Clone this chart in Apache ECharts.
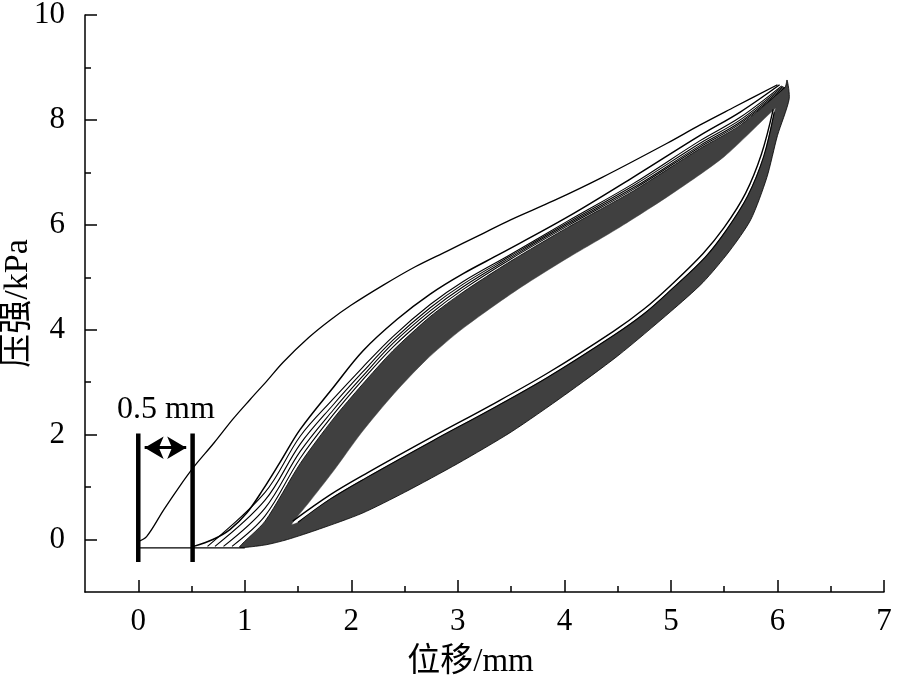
<!DOCTYPE html>
<html>
<head>
<meta charset="utf-8">
<script src="https://cdn.jsdelivr.net/npm/echarts@6/dist/echarts.min.js"></script>
<style>
html,body{margin:0;padding:0;background:#fff;}
#chart{width:900px;height:687px;}
</style>
</head>
<body>
<div id="chart"></div>
<script>
// ---- axis ticks ----
const xMajorTicks = [0, 1, 2, 3, 4, 5, 6, 7];
const xMinorTicks = [0.5, 1.5, 2.5, 3.5, 4.5, 5.5, 6.5];
const yMajorTicks = [0, 2, 4, 6, 8, 10];
const yMinorTicks = [1, 3, 5, 7, 9];

// ---- curves [displacement mm, pressure kPa] ----
const baseline = [[0, -0.16], [1.0, -0.16]];
const firstLoading = [[0,-0.04],[0.08,0.06],[0.24,0.57],[0.39,1.02],[0.52,1.38],[0.71,1.84],[0.89,2.3],[1.05,2.67],[1.21,3.03],[1.36,3.38],[1.6,3.85],[1.8,4.18],[2.0,4.47],[2.3,4.85],[2.6,5.2],[2.9,5.5],[3.2,5.8],[3.5,6.1],[3.9,6.46],[4.35,6.9],[4.96,7.55],[5.27,7.9],[5.6,8.25],[6.0,8.67]];
const loadB = [[0.52,-0.13],[0.70,0.0],[0.86,0.19],[1.02,0.51],[1.17,0.95],[1.33,1.47],[1.52,2.1],[1.83,2.9],[2.11,3.6],[2.43,4.2],[2.74,4.68],[3.05,5.07],[3.40,5.45],[4.03,6.15],[4.64,6.9],[5.27,7.7],[5.65,8.15],[6.02,8.67]];
const loadC = [[0.65,-0.13],[1.19,0.9],[1.52,1.97],[1.83,2.68],[2.1,3.27],[2.39,3.87],[2.74,4.48],[3.05,4.92],[3.49,5.43],[4.03,6.07],[4.65,6.79],[5.27,7.6],[5.65,8.05],[6.04,8.65]];
const loadD = [[0.72,-0.13],[1.19,0.75],[1.52,1.82],[1.83,2.57],[2.1,3.18],[2.39,3.8],[2.74,4.42],[3.05,4.87],[3.49,5.4],[4.03,6.04],[4.65,6.75],[5.27,7.55],[5.65,8.0],[6.05,8.64]];
const loadE = [[0.8,-0.13],[1.19,0.6],[1.52,1.68],[1.83,2.47],[2.1,3.1],[2.39,3.74],[2.74,4.36],[3.05,4.82],[3.49,5.37],[4.03,6.01],[4.65,6.71],[5.27,7.51],[5.65,7.96],[6.06,8.63]];
const loadF = [[0.88,-0.13],[1.19,0.45],[1.52,1.55],[1.83,2.38],[2.1,3.03],[2.39,3.67],[2.74,4.3],[3.05,4.77],[3.49,5.34],[4.03,5.98],[4.65,6.68],[5.27,7.48],[5.65,7.93],[6.07,8.62]];
// dark band edges
const loadBandTop = [[0.95,-0.14],[1.19,0.35],[1.52,1.45],[1.83,2.3],[2.1,2.95],[2.39,3.6],[2.74,4.25],[3.05,4.72],[3.49,5.3],[4.03,5.95],[4.65,6.65],[5.27,7.45],[5.65,7.9],[6.07,8.62],[6.09,8.76]];
const loadBandBottom = [[1.44,0.29],[1.6,0.7],[1.83,1.3],[2.1,2.05],[2.4,2.78],[2.7,3.42],[3.0,3.95],[3.3,4.4],[3.6,4.82],[4.0,5.33],[4.5,5.93],[5.0,6.58],[5.5,7.3],[5.98,8.22]];
const unloadTop = [[1.45,0.35],[1.8,0.85],[2.15,1.27],[2.77,1.97],[3.3,2.55],[3.84,3.17],[4.46,3.97],[4.75,4.4],[5.0,4.85],[5.3,5.45],[5.5,5.95],[5.7,6.6],[5.85,7.35],[5.96,8.2]];
const unloadSecond = [[1.5,0.33],[1.8,0.77],[2.15,1.19],[2.77,1.89],[3.3,2.47],[3.84,3.09],[4.46,3.89],[4.75,4.31],[5.0,4.76],[5.32,5.38],[5.52,5.9],[5.72,6.55],[5.87,7.3],[5.97,8.15]];
const unloadBottom = [[6.11,8.4],[6.0,7.7],[5.9,6.9],[5.75,6.1],[5.55,5.5],[5.3,4.9],[5.0,4.35],[4.5,3.5],[4.0,2.75],[3.5,2.05],[3.0,1.45],[2.5,0.9],[2.1,0.5],[1.7,0.2],[1.4,0.0],[1.2,-0.1],[1.0,-0.15]];
// 0.5 mm marker
const markerBars = [0, 0.51];
const markerBarRange = [-0.43, 2.02];
const arrowY = 1.75;
const markerText = '0.5 mm';
const markerTextPos = [0.26, 2.47];

const serif = "'Liberation Serif','Times New Roman','Noto Sans CJK SC',serif";
const dark = '#404040';

function lineSeries(data, width, color) {
  return {type:'line', data:data, showSymbol:false, symbol:'none', smooth:0.35,
    lineStyle:{color:color||'#000', width:width}, silent:true, z:3, animation:false};
}

const chart = echarts.init(document.getElementById('chart'));
const option = {
  animation:false,
  backgroundColor:'#fff',
  grid:{left:85, right:16, top:15, bottom:95, containLabel:false, outerBoundsMode:'none'},
  xAxis:[{
    type:'value', min:-0.5, max:7, position:'bottom',
    axisLine:{show:true, onZero:false, lineStyle:{color:'#000', width:1.5}},
    axisTick:{show:true, inside:true, length:12, customValues:xMajorTicks, lineStyle:{color:'#000', width:1.5}},
    axisLabel:{show:true, customValues:xMajorTicks, fontSize:31, color:'#000', fontFamily:serif, margin:14},
    splitLine:{show:false},
    name:'位移/mm', nameLocation:'middle', nameGap:54, nameMoveOverlap:false,
    nameTextStyle:{fontSize:33, color:'#000', fontFamily:serif, padding:[0, 28, 0, 0]}
  },{
    type:'value', min:-0.5, max:7, position:'bottom',
    axisLine:{show:false, onZero:false},
    axisTick:{show:true, inside:true, length:6, customValues:xMinorTicks, lineStyle:{color:'#000', width:1.5}},
    axisLabel:{show:false}, splitLine:{show:false}
  }],
  yAxis:[{
    type:'value', min:-1, max:10, position:'left',
    axisLine:{show:true, onZero:false, lineStyle:{color:'#000', width:1.5}},
    axisTick:{show:true, inside:true, length:12, customValues:yMajorTicks, lineStyle:{color:'#000', width:1.5}},
    axisLabel:{show:true, customValues:yMajorTicks, fontSize:31, color:'#000', fontFamily:serif, margin:20},
    splitLine:{show:false},
    name:'压强/kPa', nameLocation:'middle', nameGap:50, nameMoveOverlap:false,
    nameTextStyle:{fontSize:34, color:'#000', fontFamily:serif}
  },{
    type:'value', min:-1, max:10, position:'left',
    axisLine:{show:false, onZero:false},
    axisTick:{show:true, inside:true, length:6, customValues:yMinorTicks, lineStyle:{color:'#000', width:1.5}},
    axisLabel:{show:false}, splitLine:{show:false}
  }],
  series:[
    {
      type:'custom', xAxisIndex:0, yAxisIndex:0, data:[[0,0]], silent:true, z:1, clip:false,
      renderItem:function(params, api){
        const outer = loadBandTop.concat(unloadBottom).map(p=>api.coord(p));
        const lens = loadBandBottom.concat(unloadSecond.slice().reverse()).map(p=>api.coord(p));
        return {type:'group', children:[
          {type:'polygon', shape:{points:outer, smooth:0.25}, style:{fill:dark, stroke:'#000', lineWidth:0.8}},
          {type:'polygon', shape:{points:lens, smooth:0.25}, style:{fill:'#fff', stroke:dark, lineWidth:0.5}}
        ]};
      }
    },
    lineSeries(baseline, 1.2),
    lineSeries(firstLoading, 1.3),
    lineSeries(loadB, 1.5),
    lineSeries(loadC, 1.1),
    lineSeries(loadD, 1.1),
    lineSeries(loadE, 1.1),
    lineSeries(loadF, 1.1),
    lineSeries(unloadTop, 1.4),
    lineSeries(unloadSecond, 1.1),
    {type:'line', data:[[markerBars[0], markerBarRange[0]],[markerBars[0], markerBarRange[1]]], symbol:'none',
     lineStyle:{color:'#000', width:4.5}, silent:true, z:4},
    {type:'line', data:[[markerBars[1], markerBarRange[0]],[markerBars[1], markerBarRange[1]]], symbol:'none',
     lineStyle:{color:'#000', width:4.5}, silent:true, z:4,
     markLine:{silent:true, symbol:['arrow','arrow'], symbolSize:[17,19], animation:false,
       lineStyle:{color:'#000', width:3, type:'solid'}, label:{show:false},
       data:[[{coord:[markerBars[0]+0.06, arrowY]},{coord:[markerBars[1]-0.06, arrowY]}]]}},
    {type:'scatter', data:[markerTextPos], symbolSize:0, silent:true, z:5, itemStyle:{opacity:1},
     label:{show:true, position:'inside', formatter:markerText, fontSize:32, color:'#000', opacity:1, fontFamily:serif}}
  ]
};
chart.setOption(option);
</script>
</body>
</html>
